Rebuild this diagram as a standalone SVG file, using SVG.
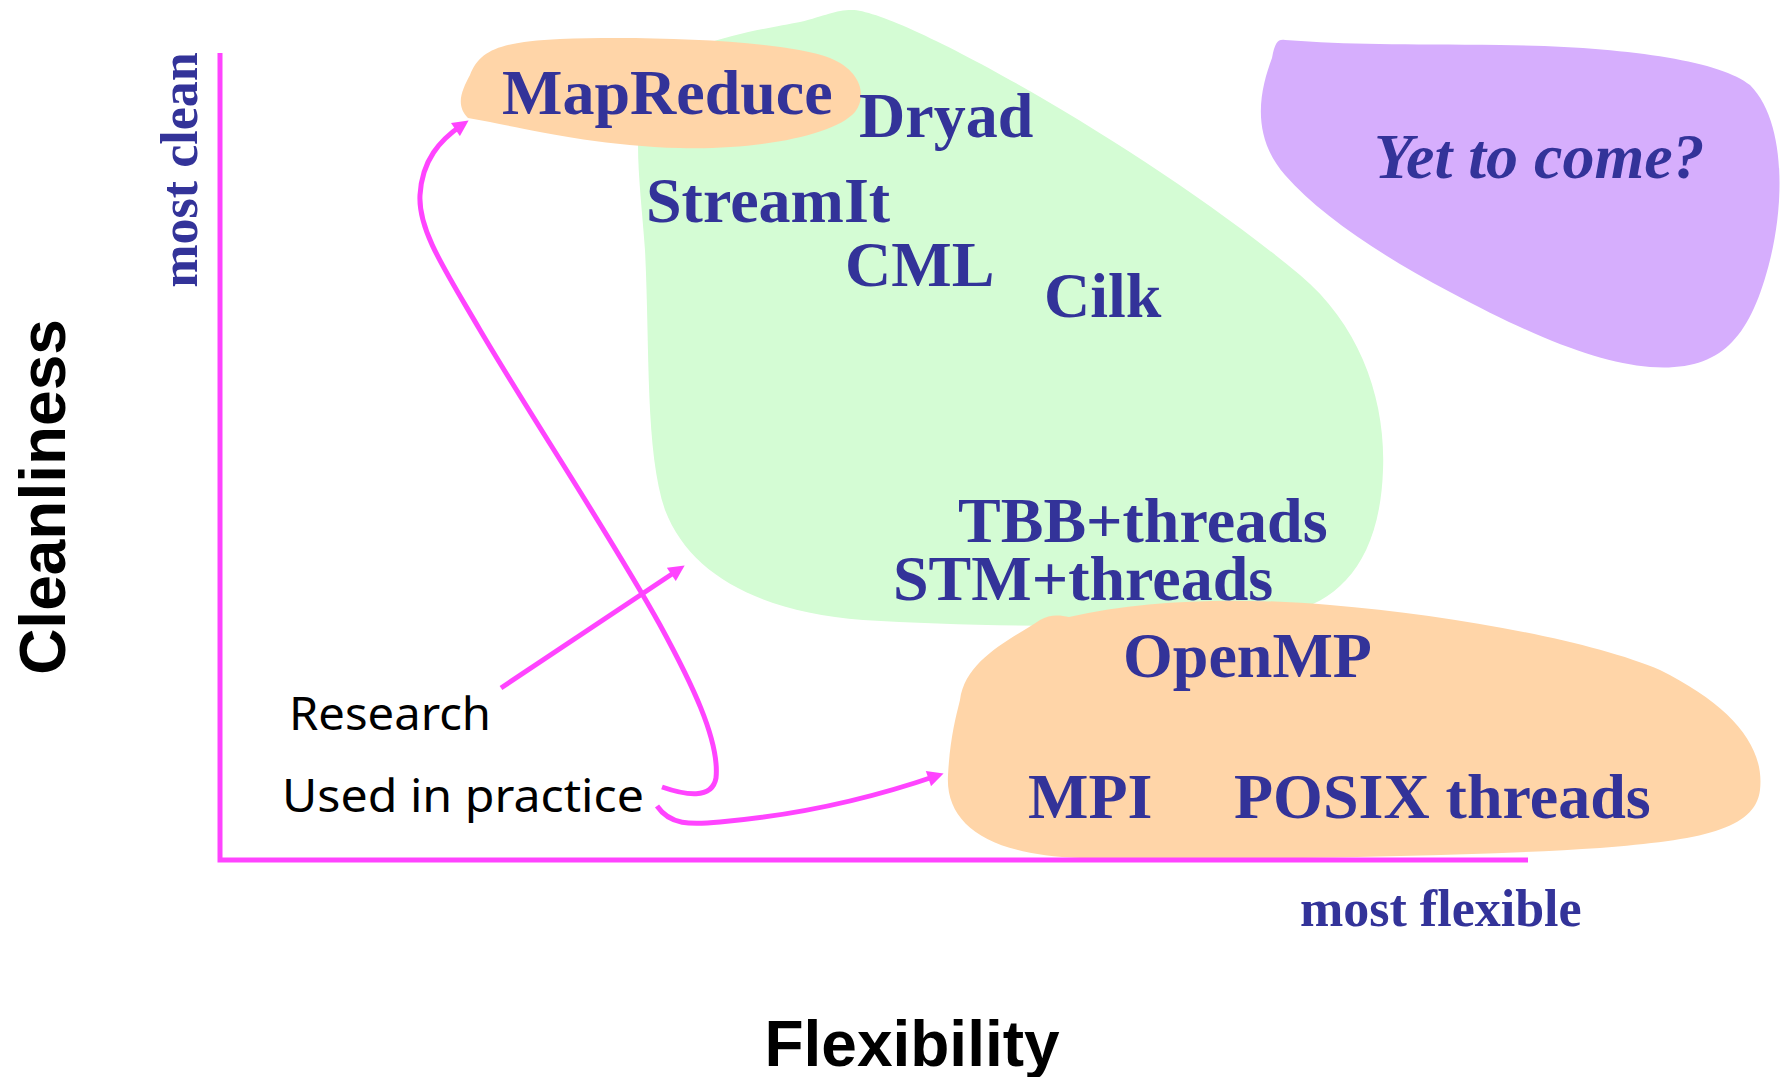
<svg xmlns="http://www.w3.org/2000/svg" width="1781" height="1077" viewBox="0 0 1781 1077">
  <defs>
    <style>
      .lbl { font-family: "Liberation Serif", "Times New Roman", serif; font-weight: bold; font-size: 64px; fill: #333399; }
      .ital { font-style: italic; }
      .axis-t { font-family: "Liberation Sans", Arial, sans-serif; font-weight: bold; font-size: 64px; fill: #000; }
      .end-t { font-family: "Liberation Serif", "Times New Roman", serif; font-weight: bold; font-size: 52px; fill: #333399; }
      .note { font-family: "Comic Sans MS", "Noto Sans", "DejaVu Sans", sans-serif; font-size: 45px; fill: #000; }
      .axis { stroke: #FF44FF; stroke-width: 5; fill: none; }
      .conn { stroke: #FF44FF; stroke-width: 5; fill: none; marker-end: url(#head); }
    </style>
    <marker id="head" viewBox="0 0 10 10" refX="5" refY="5" markerWidth="3.4" markerHeight="3.2" orient="auto" markerUnits="strokeWidth">
      <path d="M0,0 L10,5 L0,10 z" fill="#FF44FF"/>
    </marker>
  </defs>

  <rect width="1781" height="1077" fill="#fff"/>

  <!-- research languages region -->
  <g id="research-region">
    <path fill="#D4FCD4" d="M 852,10 C 900,10 1150,150 1300,275 C 1360,325 1386,400 1383,470 C 1380,560 1340,600 1290,612 C 1200,630 1000,628 863,620 C 760,612 690,575 665,510 C 645,450 650,350 645,250 C 640,180 630,120 650,80 C 680,40 760,30 800,22 C 825,16 835,10 852,10 Z"/>
  </g>

  <!-- future region -->
  <g id="future-region">
    <path fill="#D6AEFD" d="M 1285,40 C 1350,45 1400,44 1500,45 C 1620,46 1720,60 1750,85 C 1785,120 1785,200 1770,260 C 1750,340 1720,372 1650,367 C 1600,363 1540,340 1450,292 C 1380,255 1320,215 1285,175 C 1250,135 1260,90 1272,58 C 1275,42 1278,39 1285,40 Z"/>
    <text class="lbl ital" x="1374" y="178" font-size="61">Yet to come?</text>
  </g>

  <!-- practice region -->
  <g id="practice-region">
    <path fill="#FFD5A8" d="M 1069,617 C 1150,598 1250,598 1330,605 C 1450,615 1590,640 1660,670 C 1730,705 1765,745 1760,790 C 1755,830 1700,840 1600,848 C 1450,858 1200,860 1080,858 C 990,855 945,825 948,775 C 950,740 955,720 960,700 C 965,660 1010,640 1040,620 C 1050,614 1060,615 1069,617 Z"/>
  </g>

  <!-- MapReduce region -->
  <g id="mapreduce">
    <path fill="#FFD5A8" d="M 468,118 C 455,105 462,90 470,75 C 480,50 500,42 560,39 C 650,36 780,40 830,58 C 860,70 868,95 855,112 C 835,135 760,150 680,148 C 600,146 530,130 490,122 Z"/>
    <text class="lbl" x="502" y="114">MapReduce</text>
  </g>

  <g id="dryad"><text class="lbl" x="859" y="137">Dryad</text></g>
  <g id="streamit"><text class="lbl" x="646" y="222">StreamIt</text></g>
  <g id="cml"><text class="lbl" x="845" y="286">CML</text></g>
  <g id="cilk"><text class="lbl" x="1044" y="317">Cilk</text></g>
  <g id="tbb"><text class="lbl" x="958" y="542">TBB+threads</text></g>
  <g id="stm"><text class="lbl" x="893" y="600">STM+threads</text></g>
  <g id="openmp"><text class="lbl" x="1123" y="677">OpenMP</text></g>
  <g id="mpi"><text class="lbl" x="1028" y="818">MPI</text></g>
  <g id="posix"><text class="lbl" x="1234" y="818">POSIX threads</text></g>

  <!-- axes -->
  <g id="axes">
    <path class="axis" d="M 220,53 L 220,860 L 1528,860"/>
    <text class="end-t" transform="translate(197,170) rotate(-90)" text-anchor="middle">most clean</text>
    <text class="end-t" x="1300" y="926">most flexible</text>
    <text class="axis-t" transform="translate(65,497) rotate(-90)" text-anchor="middle">Cleanliness</text>
    <text class="axis-t" x="912" y="1066" text-anchor="middle">Flexibility</text>
  </g>

  <g id="legend">
    <text class="note" x="289" y="730" textLength="202" lengthAdjust="spacingAndGlyphs">Research</text>
    <text class="note" x="282" y="812" textLength="362" lengthAdjust="spacingAndGlyphs">Used in practice</text>
  </g>

  <!-- connectors -->
  <g id="connectors">
    <path class="conn" d="M 501,688 L 678,570"/>
    <path class="conn" d="M 657,806 C 670,825 690,825 720,822 C 800,815 875,797 936,776"/>
    <path class="conn" d="M 662,787 C 685,795 712,800 716,778 C 720,740 690,680 660,625 C 610,535 530,415 480,330 C 445,270 418,230 420,195 C 422,160 440,140 462,125"/>
  </g>
</svg>
